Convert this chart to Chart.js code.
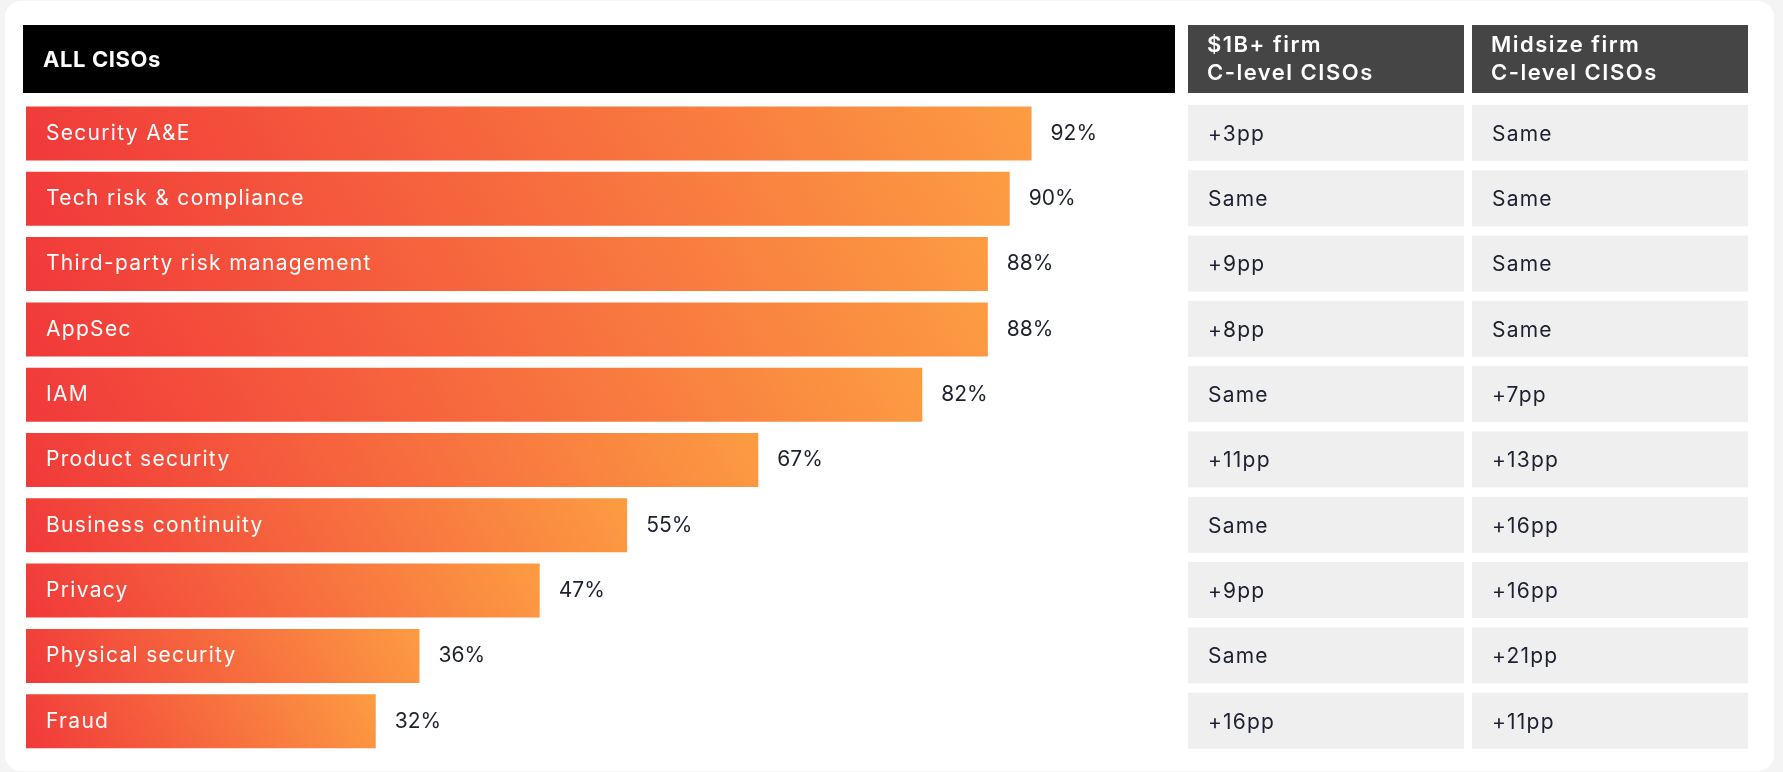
<!DOCTYPE html>
<html><head><meta charset="utf-8">
<script src="https://cdn.jsdelivr.net/npm/chart.js@4.4.1/dist/chart.umd.min.js"></script>
<style>
html,body{margin:0;padding:0;background:#f4f4f4;width:1783px;height:772px;overflow:hidden;}
#card{position:absolute;left:5px;top:1px;width:1769px;height:770px;background:#fff;border-radius:16px;}
#c{position:absolute;left:0;top:0;}
</style></head><body>
<div id="card"></div>
<canvas id="c" width="1783" height="772"></canvas>
<script>
// ---- data ----
const categories = ['Security A&E','Tech risk & compliance','Third-party risk management','AppSec','IAM','Product security','Business continuity','Privacy','Physical security','Fraud'];
const allCisos = [92, 90, 88, 88, 82, 67, 55, 47, 36, 32];
const largeFirm = ['+3pp','Same','+9pp','+8pp','Same','+11pp','Same','+9pp','Same','+16pp'];
const midsizeFirm = ['Same','Same','Same','Same','+7pp','+13pp','+16pp','+16pp','+21pp','+11pp'];
const mainHeader = 'ALL CISOs';
const columnHeaders = [['$1B+ firm','C-level CISOs'], ['Midsize firm','C-level CISOs']];
const valueSuffix = '%';

// ---- style ----
const FONT = 'Inter, "Open Sans", sans-serif';
const TEXT_DARK = '#1d2030';
const RED = '#f1393a', ORANGE = '#fc9c42';
const HEADER = {top: 25, h: 68};
const MAIN_HDR = {x: 23, w: 1152};
const COLS = [{x: 1188, w: 276}, {x: 1472, w: 276}];

function cssGradient(ctx, x, y, w, h, deg) {
  const a = deg * Math.PI / 180;
  const dx = Math.sin(a), dy = -Math.cos(a);
  const L = Math.abs(w * dx) + Math.abs(h * dy);
  const cx = x + w / 2, cy = y + h / 2;
  const g = ctx.createLinearGradient(cx - dx * L / 2, cy - dy * L / 2, cx + dx * L / 2, cy + dy * L / 2);
  g.addColorStop(0, RED);
  g.addColorStop(1, ORANGE);
  return g;
}

function setSpacing(ctx, px) {
  if ('letterSpacing' in ctx) ctx.letterSpacing = px + 'px';
}

const tablePlugin = {
  id: 'tablePlugin',
  beforeDatasetsDraw(chart) {
    const ctx = chart.ctx;
    const meta = chart.getDatasetMeta(0);
    ctx.save();
    ctx.textBaseline = 'middle';
    ctx.textAlign = 'left';
    // main header
    ctx.fillStyle = '#000';
    ctx.fillRect(MAIN_HDR.x, HEADER.top, MAIN_HDR.w, HEADER.h);
    ctx.fillStyle = '#fff';
    ctx.font = '700 22px ' + FONT;
    setSpacing(ctx, 0.6);
    ctx.fillText(mainHeader, MAIN_HDR.x + 20, HEADER.top + 35);
    // column headers
    COLS.forEach((c, j) => {
      ctx.fillStyle = '#454545';
      ctx.fillRect(c.x, HEADER.top, c.w, HEADER.h);
      ctx.fillStyle = '#fff';
      ctx.font = '600 22px ' + FONT;
      setSpacing(ctx, 1.5);
      ctx.fillText(columnHeaders[j][0], c.x + 19, HEADER.top + 20);
      ctx.fillText(columnHeaders[j][1], c.x + 19, HEADER.top + 48);
    });
    // cells
    const cols = [largeFirm, midsizeFirm];
    meta.data.forEach((bar, i) => {
      const p = bar.getProps(['y', 'height'], true);
      const h = p.height + 2;
      COLS.forEach((c, j) => {
        ctx.fillStyle = '#efefef';
        ctx.fillRect(c.x, p.y - h / 2 - 0.5, c.w, h);
        ctx.fillStyle = TEXT_DARK;
        ctx.font = '400 21px ' + FONT;
        setSpacing(ctx, 1.2);
        ctx.fillText(cols[j][i], c.x + 20, p.y + 1);
      });
    });
    ctx.restore();
  },
  afterDatasetsDraw(chart) {
    const ctx = chart.ctx;
    const meta = chart.getDatasetMeta(0);
    ctx.save();
    ctx.textBaseline = 'middle';
    ctx.textAlign = 'left';
    meta.data.forEach((bar, i) => {
      const p = bar.getProps(['x', 'y', 'base'], true);
      ctx.fillStyle = '#fff';
      ctx.font = '400 21px ' + FONT;
      setSpacing(ctx, 1.3);
      ctx.fillText(categories[i], p.base + 20, p.y);
      ctx.fillStyle = TEXT_DARK;
      ctx.font = '400 21px ' + FONT;
      setSpacing(ctx, 0);
      ctx.fillText(allCisos[i] + valueSuffix, p.x + 19, p.y);
    });
    ctx.restore();
  }
};

new Chart(document.getElementById('c'), {
  type: 'bar',
  data: {
    labels: categories,
    datasets: [{
      data: allCisos,
      barPercentage: 1,
      categoryPercentage: 0.827,
      borderWidth: 0,
      backgroundColor: (c) => {
        const chart = c.chart;
        if (!chart.chartArea || c.type !== 'data') return ORANGE;
        const xs = chart.scales.x, ys = chart.scales.y;
        const x0 = xs.getPixelForValue(0), x1 = xs.getPixelForValue(c.raw);
        const yc = ys.getPixelForValue(c.dataIndex);
        const h = ys.height / categories.length * 0.827;
        return cssGradient(chart.ctx, x0, yc - h / 2, x1 - x0, h, 60);
      }
    }]
  },
  options: {
    indexAxis: 'y',
    responsive: false,
    animation: false,
    layout: {padding: {left: 26, right: 664, top: 100.85, bottom: 18.15}},
    scales: {
      x: {display: false, min: 0, max: 100},
      y: {display: false}
    },
    plugins: {legend: {display: false}, tooltip: {enabled: false}}
  },
  plugins: [tablePlugin]
});
</script>
</body></html>
